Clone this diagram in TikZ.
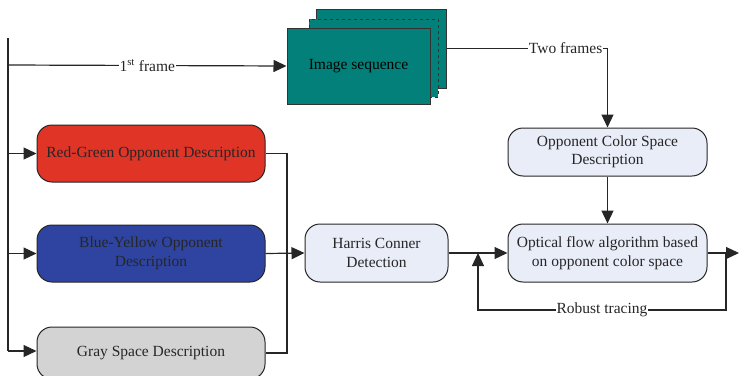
\documentclass[tikz,border=0pt]{standalone}
\usepackage{fontspec}
\setmainfont{Liberation Serif}
\usetikzlibrary{arrows.meta,positioning}
\definecolor{teal1}{HTML}{038079}
\definecolor{redbox}{HTML}{E03426}
\definecolor{bluebox}{HTML}{2E44A0}
\definecolor{graybox}{HTML}{D3D3D3}
\definecolor{lightbox}{HTML}{E8EDF8}
\definecolor{linec}{HTML}{262626}
\begin{document}
\begin{tikzpicture}[x=1pt,y=-1pt,
  font=\fontsize{15.5}{18.5}\selectfont,
  rbox/.style={draw=linec, line width=1pt, rounded corners=15pt, minimum width=228pt, minimum height=57pt, align=center, inner sep=2pt, text=black!85},
  lbox/.style={rbox, fill=lightbox},
  seqbox/.style={draw=black!80, line width=1pt, fill=teal1, minimum width=143pt, minimum height=76pt, inner sep=0pt},
  conn/.style={draw=linec, line width=1.2pt},
  arr/.style={conn, -{Triangle[length=13pt,width=12pt]}},
  lab/.style={fill=white, inner sep=1pt, text=black!85}]
\useasboundingbox (0,0) rectangle (739,375);
% image sequence stack
\node[seqbox, minimum width=130pt, minimum height=79pt] (seqb) at (381,48.5) {};
\node[seqbox, dashed, minimum width=129pt, minimum height=78pt] (seqm) at (373.5,58) {};
\node[seqbox] (seqf) at (358.5,66) {Image sequence};
% boxes
\node[rbox, fill=redbox] (rg) at (151,153.5) {Red-Green Opponent Description};
\node[rbox, fill=bluebox] (by) at (151,253.5) {Blue-Yellow Opponent\\Description};
\node[rbox, fill=graybox, minimum height=52pt] (gs) at (151,353) {Gray Space Description};
\node[lbox, minimum width=143pt, minimum height=58pt] (hc) at (376.5,253) {Harris Conner\\Detection};
\node[lbox, minimum width=199pt, minimum height=48pt] (ocs) at (607.5,152) {Opponent Color Space\\Description};
\node[lbox, minimum width=199pt, minimum height=58pt] (opt) at (607.5,253) {Optical flow algorithm based\\on opponent color space};
% coordinates
\coordinate (ltop) at (8,38);
\coordinate (lbot) at (8,351);
\coordinate (l1) at (8,65);
\coordinate (l2) at (8,153.5);
\coordinate (l3) at (8,253.5);
\coordinate (rtop) at (287,153.5);
\coordinate (rbot) at (287,353);
\coordinate (outr) at (739,253);
\coordinate (lpa) at (726,253);
\coordinate (lpb) at (726,310);
\coordinate (lpc) at (478,310);
\coordinate (lpd) at (478,253);
% connectors
\draw[conn] (ltop) -- (lbot);
\draw[arr] (l1) -- node[lab, pos=0.5]{1\textsuperscript{st} frame} (seqf.west);
\draw[arr] (l2) -- (rg.west);
\draw[arr] (l3) -- (by.west);
\draw[arr] (lbot) -- (gs.west |- lbot);
\draw[conn] (rg.east) -- (rtop) -- (rbot) -- (gs.east);
\draw[arr] (by.east) -- (hc.west);
\draw[arr] (seqb.east) -| node[lab, pos=0.37]{Two frames} (ocs.north);
\draw[arr] (ocs.south) -- (opt.north);
\draw[arr] (hc.east) -- (opt.west);
\draw[arr] (opt.east) -- (outr);
\draw[arr] (lpa) -- (lpb) -- node[lab, pos=0.5]{Robust tracing} (lpc) -- (lpd);
\end{tikzpicture}
\end{document}
